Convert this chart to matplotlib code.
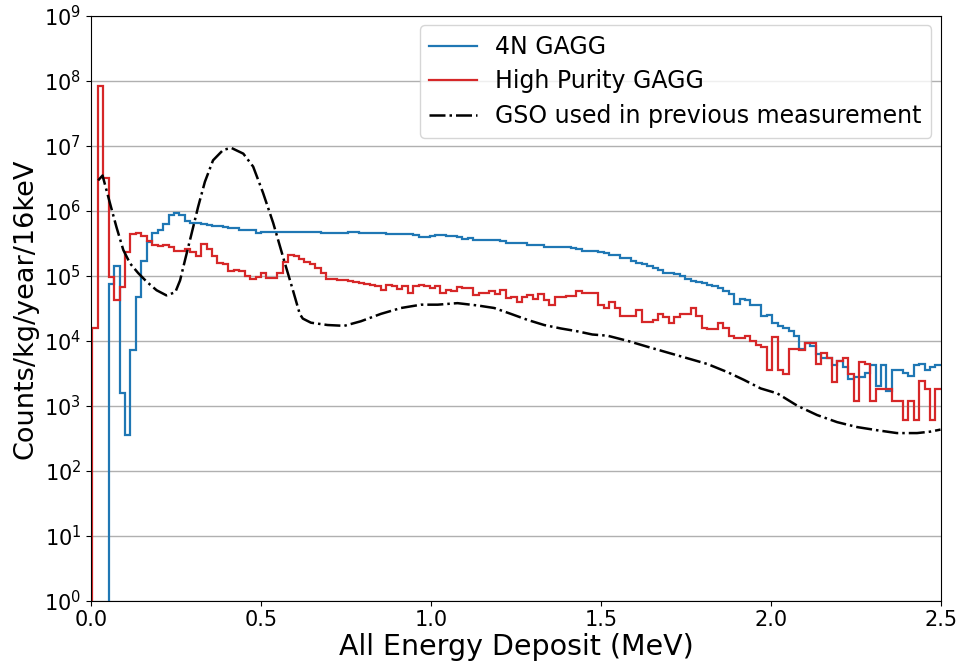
import numpy as np
import matplotlib
matplotlib.use("Agg")
import matplotlib.pyplot as plt
from matplotlib.ticker import LogLocator, NullLocator

# energy binning: 16 keV bins up to 2.5 MeV
BIN_WIDTH = 0.016
N_BINS = 156
edges = 2.5 - BIN_WIDTH * np.arange(N_BINS, -1, -1)

# 4N GAGG spectrum (counts/kg/year/16keV per bin)
gagg_4n = [
    0, 0, 0, 7.6e4, 1.4e5, 1.55e3, 3.5e2, 7.1e3, 4.8e4, 1.7e5,
    3.3e5, 4.5e5, 5.0e5, 6.2e5, 8.5e5, 9.4e5, 8.5e5, 7.1e5, 6.6e5, 6.5e5,
    6.2e5, 6.0e5, 5.9e5, 5.8e5, 5.6e5, 5.5e5, 5.4e5, 5.0e5, 5.1e5, 5.0e5,
    4.6e5, 4.7e5, 4.7e5, 4.7e5, 4.7e5, 4.7e5, 4.8e5, 4.8e5, 4.8e5, 4.8e5,
    4.8e5, 4.8e5, 4.6e5, 4.6e5, 4.6e5, 4.55e5, 4.55e5, 4.7e5, 4.7e5, 4.5e5,
    4.5e5, 4.5e5, 4.5e5, 4.5e5, 4.35e5, 4.35e5, 4.4e5, 4.4e5, 4.4e5, 4.25e5,
    4.0e5, 4.0e5, 4.1e5, 4.2e5, 4.3e5, 4.1e5, 4.05e5, 3.9e5, 3.7e5, 3.8e5,
    3.6e5, 3.6e5, 3.5e5, 3.5e5, 3.5e5, 3.45e5, 3.2e5, 3.25e5, 3.25e5, 3.15e5,
    2.95e5, 2.95e5, 2.95e5, 2.8e5, 2.8e5, 2.8e5, 2.75e5, 2.75e5, 2.7e5, 2.6e5,
    2.4e5, 2.45e5, 2.45e5, 2.3e5, 2.25e5, 2.1e5, 2.1e5, 1.9e5, 1.85e5, 1.7e5,
    1.55e5, 1.5e5, 1.4e5, 1.3e5, 1.25e5, 1.12e5, 1.1e5, 1.05e5, 1.0e5, 9.1e4,
    8.3e4, 8.1e4, 7.8e4, 7.2e4, 6.9e4, 6.5e4, 5.9e4, 5.2e4, 3.7e4, 4.4e4,
    4.2e4, 3.6e4, 3.5e4, 2.4e4, 2.5e4, 1.9e4, 1.7e4, 1.6e4, 1.4e4, 1.2e4,
    7.4e3, 9.1e3, 8.3e3, 6.2e3, 5.5e3, 5.5e3, 4.2e3, 4.9e3, 3.9e3, 2.6e3,
    2.75e3, 2.75e3, 3.2e3, 4.2e3, 2.0e3, 4.2e3, 1.7e3, 3.5e3, 3.5e3, 3.2e3,
    2.9e3, 4.3e3, 4.4e3, 3.5e3, 4.0e3, 4.3e3,
]

# High purity GAGG spectrum
gagg_hp = [
    1.6e4, 8.5e7, 3.2e6, 9.5e4, 4.2e4, 6.8e4, 2.3e5, 4.4e5, 4.6e5, 4.1e5,
    3.4e5, 3.0e5, 2.9e5, 3.0e5, 2.8e5, 2.4e5, 2.4e5, 2.6e5, 2.3e5, 2.0e5,
    3.1e5, 2.6e5, 2.0e5, 1.6e5, 1.5e5, 1.2e5, 1.23e5, 1.17e5, 1.0e5, 9.0e4,
    9.5e4, 1.1e5, 9.3e4, 9.3e4, 1.12e5, 1.66e5, 2.1e5, 2.0e5, 1.8e5, 1.66e5,
    1.5e5, 1.3e5, 1.1e5, 8.9e4, 8.9e4, 8.5e4, 8.5e4, 8.3e4, 8.1e4, 7.8e4,
    7.6e4, 7.2e4, 7.1e4, 6.0e4, 7.2e4, 7.1e4, 6.2e4, 7.1e4, 5.5e4, 7.1e4,
    7.2e4, 6.9e4, 6.6e4, 6.9e4, 5.5e4, 6.0e4, 5.9e4, 6.8e4, 6.6e4, 6.5e4,
    5.1e4, 5.5e4, 5.5e4, 5.9e4, 5.2e4, 6.0e4, 4.6e4, 4.8e4, 3.9e4, 4.8e4,
    5.1e4, 4.4e4, 5.2e4, 4.2e4, 3.5e4, 4.8e4, 4.7e4, 4.9e4, 4.9e4, 5.9e4,
    5.5e4, 5.5e4, 5.4e4, 3.6e4, 3.2e4, 3.9e4, 3.2e4, 2.4e4, 2.4e4, 2.4e4,
    3.0e4, 1.95e4, 1.95e4, 2.1e4, 2.6e4, 2.3e4, 1.9e4, 2.3e4, 2.6e4, 2.6e4,
    3.2e4, 2.4e4, 1.6e4, 1.5e4, 1.5e4, 1.9e4, 1.55e4, 1.2e4, 1.1e4, 1.1e4,
    1.17e4, 9.8e3, 8.5e3, 8.0e3, 3.6e3, 1.15e4, 3.5e3, 3.1e3, 7.4e3, 7.4e3,
    7.1e3, 9.3e3, 9.3e3, 4.4e3, 6.6e3, 5.5e3, 2.3e3, 4.9e3, 5.5e3, 3.1e3,
    1.2e3, 4.8e3, 4.4e3, 1.2e3, 1.8e3, 1.8e3, 1.8e3, 1.2e3, 1.2e3, 6.0e2,
    1.2e3, 6.0e2, 2.4e3, 1.8e3, 6.0e2, 1.8e3,
]

# GSO spectrum from the previous measurement (smooth curve)
gso_energy = [
    0.021, 0.034, 0.056, 0.075, 0.095, 0.115, 0.139, 0.164, 0.193, 0.222,
    0.248, 0.262, 0.276, 0.296, 0.315, 0.335, 0.359, 0.389, 0.413, 0.448,
    0.477, 0.506, 0.536, 0.565, 0.594, 0.614, 0.623, 0.647, 0.696, 0.745,
    0.794, 0.853, 0.912, 0.971, 1.020, 1.078, 1.137, 1.186, 1.235, 1.284,
    1.333, 1.382, 1.431, 1.475, 1.519, 1.578, 1.637, 1.696, 1.754, 1.813,
    1.872, 1.921, 1.970, 2.019, 2.078, 2.136, 2.195, 2.254, 2.313, 2.371,
    2.430, 2.469, 2.499,
]
gso_counts = [
    2.95e6, 3.5e6, 1.3e6, 5.6e5, 2.5e5, 1.55e5, 1.1e5, 8.1e4, 6.0e4, 5.0e4,
    5.6e4, 8.5e4, 1.7e5, 4.5e5, 1.15e6, 2.8e6, 6.0e6, 8.7e6, 9.3e6, 7.6e6,
    4.8e6, 1.9e6, 6.5e5, 1.95e5, 6.0e4, 2.6e4, 2.2e4, 1.9e4, 1.75e4, 1.7e4,
    2.0e4, 2.6e4, 3.2e4, 3.6e4, 3.6e4, 3.8e4, 3.5e4, 3.2e4, 2.6e4, 2.1e4,
    1.75e4, 1.55e4, 1.4e4, 1.25e4, 1.2e4, 1.0e4, 8.1e3, 6.6e3, 5.4e3, 4.4e3,
    3.3e3, 2.5e3, 1.85e3, 1.55e3, 1.0e3, 7.2e2, 5.6e2, 4.7e2, 4.2e2, 3.8e2,
    3.8e2, 4.0e2, 4.3e2,
]

fig = plt.figure(figsize=(9.62, 6.65), dpi=100)
ax = fig.add_axes([0.0946, 0.0967, 0.8834, 0.8793])

# an empty bin in front of the first edge lets the step rise from the bottom
# on the left without closing the outline at the right edge
lead_edges = np.r_[0.0, edges]
ax.stairs(np.r_[0.0, gagg_4n], lead_edges, color="tab:blue", lw=1.6,
          baseline=None, label="4N GAGG")
ax.stairs(np.r_[0.0, gagg_hp], lead_edges, color="tab:red", lw=1.6,
          baseline=None, label="High Purity GAGG")
ax.plot(gso_energy, gso_counts, color="black", ls="-.", lw=1.8,
        label="GSO used in previous measurement")

ax.set_yscale("log")
ax.set_xlim(0, 2.5)
ax.set_ylim(1, 1e9)
ax.yaxis.set_major_locator(LogLocator(base=10, numticks=12))
ax.yaxis.set_minor_locator(NullLocator())
ax.grid(axis="y", color="#b0b0b0", lw=1)
ax.set_axisbelow(True)

ax.tick_params(labelsize=15)
ax.set_xlabel("All Energy Deposit (MeV)", fontsize=20.5, labelpad=2)
ax.set_ylabel("Counts/kg/year/16keV", fontsize=19.5)
ax.legend(loc="upper right", fontsize=17, labelspacing=0.45,
          borderaxespad=0.4)

fig.savefig("out.png", dpi=100)
